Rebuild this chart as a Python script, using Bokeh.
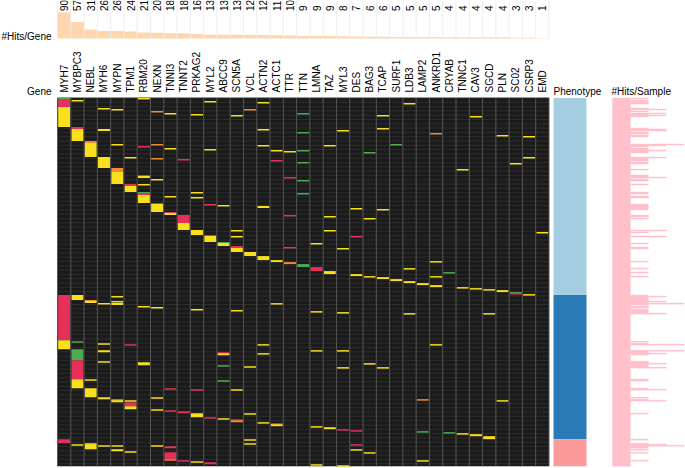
import numpy as np
from bokeh.plotting import figure
from bokeh.models import Range1d
from bokeh.embed import file_html
from bokeh.resources import INLINE
from bokeh.core.properties import value

# ---------------- data ----------------
genes = ["MYH7", "MYBPC3", "NEBL", "MYH6", "MYPN", "TPM1", "RBM20", "NEXN", "TNNI3",
         "TNNT2", "PRKAG2", "MYL2", "ABCC9", "SCN5A", "VCL", "ACTN2", "ACTC1", "TTR",
         "TTN", "LMNA", "TAZ", "MYL3", "DES", "BAG3", "TCAP", "SURF1", "LDB3", "LAMP2",
         "ANKRD1", "CRYAB", "TNNC1", "CAV3", "SGCD", "PLN", "SC02", "CSRP3", "EMD"]
hits_per_gene = [90, 57, 31, 26, 26, 24, 21, 20, 18, 18, 16, 13, 13, 13, 12, 12, 11, 10,
                 9, 9, 9, 8, 7, 6, 6, 5, 5, 5, 5, 4, 4, 4, 4, 4, 3, 3, 1]

phenotypes = ["Phenotype A", "Phenotype B", "Phenotype C"]
phenotype_sizes = [197, 144, 27]          # samples per phenotype (rows, top to bottom)

variant_classes = ["M", "T", "S", "I"]    # missense, truncating, splice, in-frame

# hits per gene: (first sample row, number of consecutive samples, variant class)
MYH7_hits = [(0, 1, "S"), (1, 8, "T"), (9, 20, "M"), (197, 45, "T"), (242, 9, "M"), (341, 4, "T")]
MYBPC3_hits = [(2, 1, "M"), (29, 2, "T"), (31, 12, "M"), (197, 5, "M"), (243, 1, "S"), (251, 11, "S"),
               (262, 19, "T"), (281, 9, "M"), (346, 1, "M")]
NEBL_hits = [(43, 2, "I"), (45, 14, "M"), (202, 1, "I"), (203, 2, "M"), (281, 1, "M"), (290, 9, "M"),
             (345, 1, "M"), (346, 5, "M")]
MYH6_hits = [(10, 1, "M"), (31, 2, "M"), (59, 11, "M"), (205, 1, "M"), (245, 1, "M"), (252, 2, "M"),
             (263, 1, "M"), (299, 2, "M"), (347, 1, "M")]
MYPN_hits = [(11, 1, "M"), (46, 1, "M"), (70, 4, "I"), (74, 12, "M"), (198, 1, "M"), (203, 1, "M"),
             (205, 2, "M"), (301, 1, "I"), (302, 2, "M"), (347, 1, "M"), (351, 2, "M")]
TPM1_hits = [(59, 1, "M"), (86, 2, "T"), (88, 6, "M"), (246, 1, "T"), (302, 1, "M"), (304, 4, "T"),
             (308, 3, "M"), (353, 1, "M")]
RBM20_hits = [(0, 1, "M"), (48, 1, "T"), (77, 1, "T"), (78, 2, "M"), (86, 1, "M"), (94, 1, "S"),
              (95, 2, "T"), (97, 8, "M"), (208, 1, "M"), (264, 3, "M")]
NEXN_hits = [(13, 1, "I"), (46, 1, "I"), (60, 1, "I"), (81, 1, "M"), (105, 1, "T"), (106, 8, "M"),
             (209, 1, "M"), (299, 1, "M"), (311, 1, "M"), (347, 1, "M")]
TNNI3_hits = [(15, 1, "M"), (50, 1, "M"), (98, 1, "M"), (114, 1, "T"), (115, 2, "M"), (290, 1, "T"),
              (312, 1, "T"), (348, 2, "T"), (354, 7, "T"), (361, 1, "I")]
TNNT2_hits = [(61, 1, "T"), (117, 8, "T"), (125, 7, "M"), (313, 2, "T"), (362, 1, "T")]
PRKAG2_hits = [(16, 1, "M"), (94, 1, "M"), (99, 1, "M"), (132, 5, "M"), (211, 1, "M"), (291, 1, "T"),
               (315, 4, "M"), (363, 1, "M")]
MYL2_hits = [(3, 1, "M"), (51, 1, "M"), (106, 1, "T"), (137, 1, "T"), (138, 6, "M"), (319, 1, "T"),
             (364, 2, "T")]
ABCC9_hits = [(107, 1, "M"), (144, 1, "S"), (145, 3, "M"), (254, 1, "T"), (255, 2, "M"), (267, 1, "S"),
              (282, 1, "S"), (320, 1, "M")]
SCN5A_hits = [(17, 1, "M"), (132, 1, "M"), (138, 1, "M"), (148, 2, "T"), (150, 4, "M"), (212, 1, "M"),
              (291, 1, "M"), (321, 1, "T"), (322, 2, "I")]
VCL_hits = [(11, 1, "I"), (154, 4, "M"), (268, 1, "M"), (315, 1, "M"), (341, 1, "M"), (345, 1, "M")]
ACTN2_hits = [(4, 1, "M"), (31, 1, "M"), (47, 1, "M"), (108, 2, "M"), (158, 4, "M"), (246, 1, "M"),
              (255, 1, "M"), (324, 1, "M")]
ACTC1_hits = [(52, 1, "M"), (62, 1, "T"), (162, 2, "M"), (205, 1, "M"), (325, 1, "T"), (326, 2, "M")]
TTR_hits = [(53, 1, "M"), (79, 1, "T"), (117, 1, "T"), (149, 1, "T"), (164, 2, "I")]
TTN_hits = [(15, 1, "S"), (34, 1, "S"), (52, 1, "S"), (64, 1, "S"), (82, 1, "S"), (95, 1, "S"), (166, 3, "S")]
LMNA_hits = [(145, 1, "M"), (169, 4, "T"), (213, 1, "M"), (252, 1, "M"), (328, 1, "M"), (366, 1, "M")]
TAZ_hits = [(47, 1, "M"), (118, 1, "M"), (132, 1, "M"), (173, 3, "M"), (329, 2, "M")]
MYL3_hits = [(32, 1, "M"), (150, 1, "M"), (214, 1, "M"), (252, 1, "M"), (269, 1, "M"), (331, 1, "T"),
             (367, 1, "M")]
DES_hits = [(110, 1, "M"), (138, 1, "T"), (176, 2, "M"), (332, 1, "T"), (346, 1, "T"), (351, 1, "M")]
BAG3_hits = [(54, 1, "S"), (120, 1, "M"), (178, 1, "M"), (265, 1, "M"), (354, 1, "M")]
TCAP_hits = [(17, 1, "M"), (30, 1, "M"), (111, 1, "M"), (179, 2, "M"), (269, 1, "M")]
SURF1_hits = [(46, 1, "S"), (181, 2, "M")]
LDB3_hits = [(5, 1, "M"), (170, 1, "M"), (183, 2, "M"), (215, 1, "M")]
LAMP2_hits = [(185, 2, "M"), (301, 1, "I"), (333, 1, "S"), (362, 1, "M")]
ANKRD1_hits = [(35, 1, "I"), (163, 1, "M"), (178, 1, "M"), (187, 2, "M"), (246, 1, "M")]
CRYAB_hits = [(174, 1, "S"), (334, 1, "S")]
TNNC1_hits = [(71, 1, "M"), (189, 1, "M"), (335, 1, "M")]
CAV3_hits = [(18, 1, "M"), (190, 1, "M"), (336, 2, "M")]
SGCD_hits = [(191, 1, "M"), (215, 1, "M"), (338, 3, "M")]
PLN_hits = [(37, 1, "M"), (192, 2, "M"), (302, 1, "M")]
SC02_hits = [(65, 1, "M"), (194, 1, "S"), (195, 1, "T")]
CSRP3_hits = [(38, 1, "M"), (59, 1, "M"), (196, 1, "M")]
EMD_hits = [(134, 1, "M")]

gene_hit_lists = [MYH7_hits, MYBPC3_hits, NEBL_hits, MYH6_hits, MYPN_hits, TPM1_hits, RBM20_hits,
                  NEXN_hits, TNNI3_hits, TNNT2_hits, PRKAG2_hits, MYL2_hits, ABCC9_hits, SCN5A_hits,
                  VCL_hits, ACTN2_hits, ACTC1_hits, TTR_hits, TTN_hits, LMNA_hits, TAZ_hits, MYL3_hits,
                  DES_hits, BAG3_hits, TCAP_hits, SURF1_hits, LDB3_hits, LAMP2_hits, ANKRD1_hits,
                  CRYAB_hits, TNNC1_hits, CAV3_hits, SGCD_hits, PLN_hits, SC02_hits, CSRP3_hits, EMD_hits]

# ---------------- style / layout ----------------
W, H = 685, 468
HEAT_L, HEAT_R, HEAT_T, HEAT_B = 57.0, 548.5, 97.5, 465.7
TOP_BASE_PX, TOP_MAX_PX = 38.0, 12.0
PHENO_L_PX, PHENO_R_PX = 553.0, 586.0
HPS_BASE_PX, HPS_UNIT_PX = 612.0, 17.9
FONT = value("Liberation Sans")
FS = "10px"

class_colors = {"M": "#f9df1c", "T": "#e6305a", "S": "#4cad50", "I": "#ef8a3a"}
pheno_colors = ["#a6cee3", "#2a7ab8", "#fb9a99"]
BAR_COLOR = "#fdd6ae"
HPS_COLOR = "#ffc0cb"
HEAT_BG = "#1b1b1b"
MIN_H = 1.5
INSET = 0.05

n_genes = len(genes)
n_samples = sum(phenotype_sizes)
col_px = (HEAT_R - HEAT_L) / n_genes
row_px = (HEAT_B - HEAT_T) / n_samples


def px_x(px):
    return (px - HEAT_L) / col_px - 0.5


def px_y(py):
    return (py - HEAT_T) / row_px


gh_scale = (TOP_BASE_PX - TOP_MAX_PX) / max(hits_per_gene)

p = figure(width=W, height=H, output_backend="svg", toolbar_location=None,
           x_range=Range1d(px_x(0), px_x(W)), y_range=Range1d(px_y(H), px_y(0)),
           x_axis_location=None, y_axis_location=None, min_border=0,
           outline_line_color=None, background_fill_color="white", border_fill_color="white")
p.grid.visible = False
p.extra_y_ranges = {"gh": Range1d(-(H - TOP_BASE_PX) / gh_scale, TOP_BASE_PX / gh_scale)}
p.extra_x_ranges = {"hps": Range1d(-HPS_BASE_PX / HPS_UNIT_PX, (W - HPS_BASE_PX) / HPS_UNIT_PX)}

gx = np.arange(n_genes)

# ---- top panel: hits per gene ----
p.vbar(x=gx, top=hits_per_gene, bottom=0, width=1.0, y_range_name="gh",
       fill_color=BAR_COLOR, line_color=None)
sep_x = np.arange(n_genes + 1) - 0.5
p.segment(x0=sep_x, x1=sep_x, y0=0, y1=TOP_BASE_PX / gh_scale, y_range_name="gh",
          line_color="#ececec", line_width=1, line_alpha=0.9)
p.text(x=gx, y=px_y(10.5), text=[str(v) for v in hits_per_gene], angle=np.pi / 2,
       text_align="left", text_baseline="middle", text_font=FONT, text_font_size=FS,
       text_color="black")

# ---- gene labels ----
p.text(x=gx, y=px_y(92.0), text=genes, angle=np.pi / 2, text_align="left",
       text_baseline="middle", text_font=FONT, text_font_size=FS, text_color="black")

# ---- heatmap ----
p.quad(left=-0.5, right=n_genes - 0.5, top=0, bottom=n_samples, fill_color=HEAT_BG, line_color=None)
hy = np.arange(0, n_samples, 4.3)
p.segment(x0=-0.5, x1=n_genes - 0.5, y0=hy, y1=hy, line_color="#2d2d2d", line_width=1)

hl, hr, ht, hb, hc = [], [], [], [], []
per_sample = np.zeros(n_samples, dtype=int)
for gi, lst in enumerate(gene_hit_lists):
    for (r, n, c) in lst:
        hl.append(gi - 0.5 + INSET)
        hr.append(gi + 0.5 - INSET)
        ht.append(r)
        hb.append(r + max(n, MIN_H))
        hc.append(class_colors[c])
        per_sample[r:r + n] += 1
p.quad(left=hl, right=hr, top=ht, bottom=hb, fill_color=hc, line_color=None)

p.segment(x0=sep_x, x1=sep_x, y0=0, y1=n_samples, line_color="#555555", line_width=1)

# ---- phenotype bar ----
bounds = np.concatenate([[0], np.cumsum(phenotype_sizes)])
p.quad(left=px_x(PHENO_L_PX), right=px_x(PHENO_R_PX), top=bounds[:-1], bottom=bounds[1:],
       fill_color=pheno_colors, line_color=None)

# ---- hits per sample: drawn as layers (k-th hit), consecutive samples merged ----
q_l, q_r, q_t, q_b = [], [], [], []
for k in range(1, int(per_sample.max()) + 1):
    mask = per_sample >= k
    i = 0
    while i < n_samples:
        if mask[i]:
            j = i
            while j < n_samples and mask[j]:
                j += 1
            q_l.append(k - 1)
            q_r.append(k)
            q_t.append(i)
            q_b.append(j)
            i = j
        else:
            i += 1
p.quad(left=q_l, right=q_r, top=q_t, bottom=q_b, x_range_name="hps",
       fill_color=HPS_COLOR, line_color=HPS_COLOR, line_width=0.4)

# ---- panel titles ----
p.text(x=[px_x(51.0), px_x(51.0)], y=[px_y(35.5), px_y(90.5)], text=["#Hits/Gene", "Gene"],
       text_align="right", text_baseline="middle", text_font=FONT, text_font_size=FS,
       text_color="black")
p.text(x=[px_x(PHENO_L_PX), px_x(HPS_BASE_PX - 1)], y=[px_y(90.5), px_y(90.5)],
       text=["Phenotype", "#Hits/Sample"], text_align="left", text_baseline="middle",
       text_font=FONT, text_font_size=FS, text_color="black")

open("out.html", "w").write(file_html(p, INLINE))
